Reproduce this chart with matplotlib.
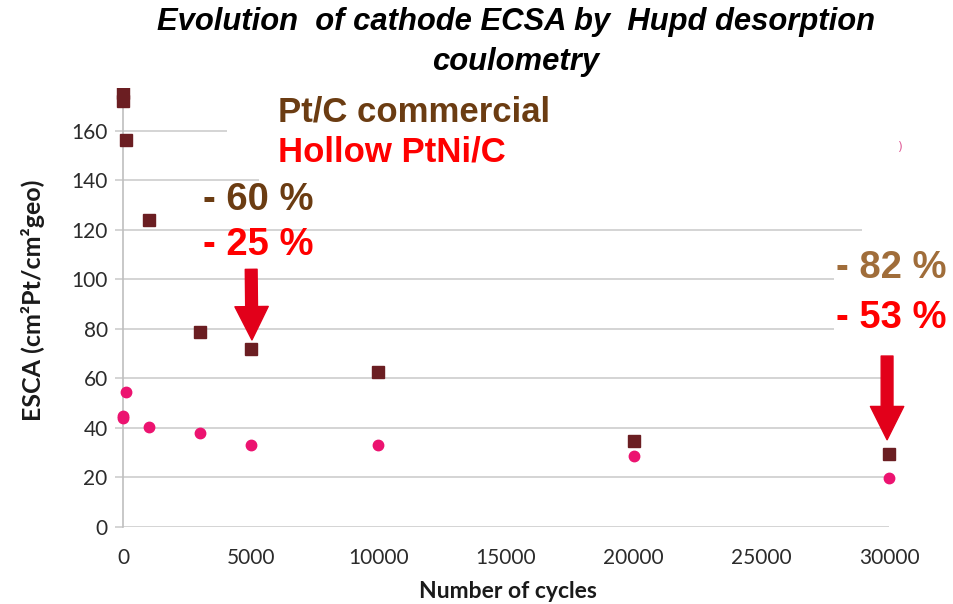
import matplotlib
matplotlib.use("Agg")
import matplotlib.pyplot as plt
from matplotlib.patches import Rectangle

# ---------------- data ----------------
cycles_ptc = [0, 0, 100, 1000, 3000, 5000, 10000, 20000, 30000]
ecsa_ptc = [175, 172, 156, 124, 78.6, 71.8, 62.5, 34.7, 29.4]
cycles_ptni = [0, 0, 100, 1000, 3000, 5000, 10000, 20000, 30000]
ecsa_ptni = [44.8, 43.9, 54.6, 40.4, 37.8, 33.2, 33.0, 28.6, 19.8]
x_ticks = [0, 5000, 10000, 15000, 20000, 25000, 30000]
y_ticks = [0, 20, 40, 60, 80, 100, 120, 140, 160]
title_lines = ["Evolution  of cathode ECSA by  Hupd desorption", "coulometry"]
series_names = ["Pt/C commercial", "Hollow PtNi/C"]
loss_5000 = ["- 60 %", "- 25 %"]
loss_30000 = ["- 82 %", "- 53 %"]

W, H = 954, 604
fig = plt.figure(figsize=(W / 100, H / 100), dpi=100)
fig.patch.set_facecolor("white")

def fx(px):
    return px / W

def fy(py):
    return 1 - py / H

ax = fig.add_axes([fx(123), fy(527), fx(889) - fx(123), fy(81) - fy(527)])
ax.set_xlim(0, 30000)
ax.set_ylim(0, 180)
for s in ["top", "right", "bottom"]:
    ax.spines[s].set_visible(False)
ax.spines["left"].set_color("#BFBFBF")
ax.spines["left"].set_linewidth(1.2)
ax.set_yticks(y_ticks)
ax.set_xticks(x_ticks)
ax.yaxis.grid(True, color="#D4D4D4", linewidth=1.4)
ax.set_axisbelow(True)
ax.tick_params(axis="y", length=6, width=1.4, color="#D4D4D4", pad=5,
               labelsize=15, labelcolor="#2B2B2B")
ax.tick_params(axis="x", length=0, pad=15, labelsize=15, labelcolor="#2B2B2B")
for lab in ax.get_xticklabels() + ax.get_yticklabels():
    lab.set_fontfamily("Lato")

ax.plot(cycles_ptc, ecsa_ptc, linestyle="none", marker="s", markersize=8,
        color="#6B1E22", clip_on=False, zorder=5)
ax.plot(cycles_ptni, ecsa_ptni, linestyle="none", marker="o", markersize=7.5,
        color="#EC1370", clip_on=False, zorder=5)

# white boxes that hide parts of the grid (as in the original slide)
def white_box(x0, y0, x1, y1):
    fig.patches.append(Rectangle((fx(x0), fy(y1)), fx(x1) - fx(x0), fy(y0) - fy(y1),
                                 transform=fig.transFigure, facecolor="white",
                                 edgecolor="none", zorder=3))

white_box(0, 0, W, 88)
white_box(227, 88, W, 165)
white_box(259, 165, W, 205)
white_box(862, 220, W, 240)

# title
fig.text(fx(516), fy(22), title_lines[0], ha="center", va="center", fontsize=22.3,
         fontweight="bold", fontstyle="italic", family="Liberation Sans", zorder=10)
fig.text(fx(516), fy(62), title_lines[1], ha="center", va="center", fontsize=22.3,
         fontweight="bold", fontstyle="italic", family="Liberation Sans", zorder=10)

# axis labels
fig.text(fx(508), fy(592), "Number of cycles", ha="center", va="center",
         fontsize=16.5, fontweight="bold", family="Lato", color="#1A1A1A")
fig.text(fx(33), fy(300), "ESCA (cm²Pt/cm²geo)", ha="center", va="center",
         rotation=90, fontsize=18, fontweight="bold", family="Lato", color="#1A1A1A")

# legend-like texts
fig.text(fx(278), fy(112), series_names[0], ha="left", va="center", fontsize=25,
         fontweight="bold", family="Liberation Sans", color="#6B3C12", zorder=10)
fig.text(fx(278), fy(152), series_names[1], ha="left", va="center", fontsize=25,
         fontweight="bold", family="Liberation Sans", color="#FF0000", zorder=10)
fig.text(fx(900), fy(147), ")", ha="center", va="center", fontsize=9,
         color="#E0609A", zorder=10)

# loss annotations
fig.text(fx(203), fy(200), loss_5000[0], ha="left", va="center", fontsize=27.5,
         fontweight="bold", family="Liberation Sans", color="#6B3C12", zorder=10)
fig.text(fx(203), fy(245), loss_5000[1], ha="left", va="center", fontsize=27.5,
         fontweight="bold", family="Liberation Sans", color="#FF0000", zorder=10)
fig.text(fx(836), fy(268), loss_30000[0], ha="left", va="center", fontsize=27.5,
         fontweight="bold", family="Liberation Sans", color="#A06D3A", zorder=10,
         bbox=dict(facecolor="white", edgecolor="none", pad=1))
fig.text(fx(836), fy(318), loss_30000[1], ha="left", va="center", fontsize=27.5,
         fontweight="bold", family="Liberation Sans", color="#FF0000", zorder=10,
         bbox=dict(facecolor="white", edgecolor="none", pad=1))

# arrows
arrow_style = "simple,head_length=24,head_width=24,tail_width=8.5"
ax.annotate("", xy=(5050, 75.5), xytext=(5020, 104),
            arrowprops=dict(arrowstyle=arrow_style, color="#E2001A",
                            mutation_scale=1, shrinkA=0, shrinkB=0), zorder=6)
ax.annotate("", xy=(29925, 35.2), xytext=(29925, 69),
            arrowprops=dict(arrowstyle=arrow_style, color="#E2001A",
                            mutation_scale=1, shrinkA=0, shrinkB=0), zorder=6)

fig.savefig("out.png", dpi=100, facecolor="white")
